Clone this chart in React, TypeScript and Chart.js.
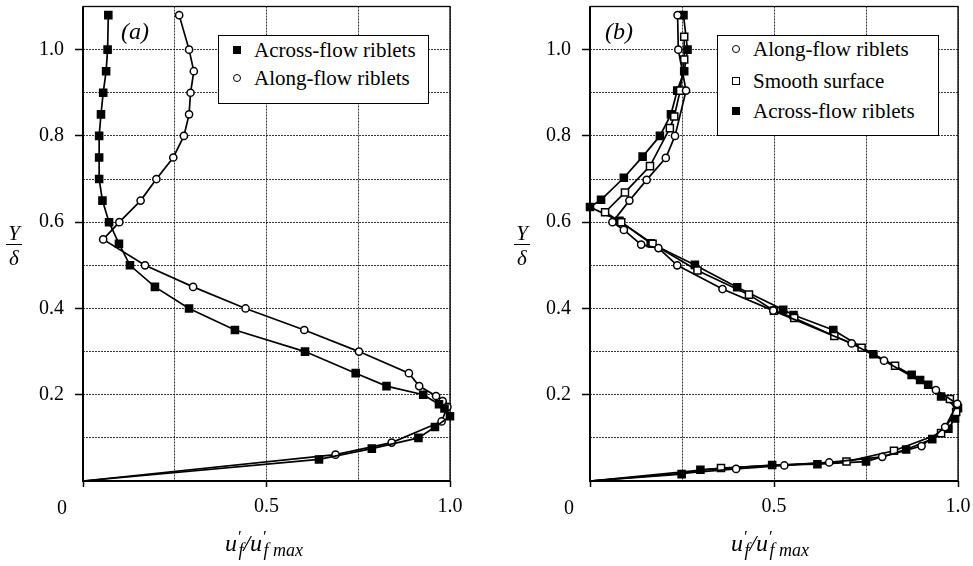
import React, { useEffect, useRef } from "react";
import { Chart, registerables } from "chart.js";
Chart.register(...registerables);

const FONT = "'Liberation Serif', 'Times New Roman', serif";

// ---------- Panel (a) ----------
const acrossA_x = [0.069, 0.067, 0.063, 0.055, 0.049, 0.044, 0.044, 0.044, 0.053, 0.071, 0.098, 0.128, 0.196, 0.289, 0.414, 0.605, 0.743, 0.827, 0.927, 0.97, 0.985, 1.0, 0.959, 0.914, 0.787, 0.643, 0];
const acrossA_y = [1.08, 1.0, 0.95, 0.9, 0.85, 0.8, 0.75, 0.7, 0.65, 0.6, 0.55, 0.5, 0.45, 0.4, 0.35, 0.3, 0.25, 0.22, 0.2, 0.178, 0.168, 0.15, 0.125, 0.1, 0.075, 0.05, 0];
const alongA_x = [0.262, 0.289, 0.302, 0.293, 0.289, 0.275, 0.246, 0.2, 0.157, 0.099, 0.055, 0.169, 0.3, 0.443, 0.603, 0.752, 0.888, 0.916, 0.962, 0.98, 0.993, 0.977, 0.841, 0.688, 0];
const alongA_y = [1.08, 1.0, 0.95, 0.9, 0.85, 0.8, 0.75, 0.7, 0.65, 0.6, 0.56, 0.5, 0.45, 0.4, 0.35, 0.3, 0.25, 0.22, 0.197, 0.185, 0.172, 0.138, 0.089, 0.061, 0];

// ---------- Panel (b) ----------
const alongB_x = [0.238, 0.24, 0.261, 0.231, 0.206, 0.154, 0.107, 0.061, 0.092, 0.139, 0.186, 0.237, 0.36, 0.498, 0.711, 0.799, 0.94, 0.998, 0.965, 0.901, 0.794, 0.65, 0.528, 0.397, 0];
const alongB_y = [1.08, 1.0, 0.905, 0.8, 0.749, 0.698, 0.65, 0.6, 0.582, 0.548, 0.54, 0.5, 0.445, 0.395, 0.319, 0.279, 0.211, 0.179, 0.125, 0.081, 0.056, 0.043, 0.036, 0.028, 0];
const smoothB_x = [0.256, 0.256, 0.245, 0.229, 0.217, 0.163, 0.095, 0.041, 0.085, 0.17, 0.292, 0.432, 0.5, 0.555, 0.664, 0.738, 0.829, 0.978, 0.995, 0.954, 0.826, 0.697, 0.356, 0];
const smoothB_y = [1.03, 0.977, 0.905, 0.845, 0.818, 0.73, 0.669, 0.623, 0.6, 0.55, 0.488, 0.432, 0.395, 0.378, 0.336, 0.309, 0.267, 0.19, 0.16, 0.111, 0.07, 0.045, 0.03, 0];
const acrossB_x = [0.254, 0.265, 0.256, 0.237, 0.22, 0.19, 0.143, 0.092, 0.03, 0.0, 0.08, 0.165, 0.285, 0.4, 0.525, 0.553, 0.661, 0.77, 0.874, 0.897, 0.919, 0.954, 1.0, 0.992, 0.974, 0.93, 0.859, 0.75, 0.618, 0.495, 0.3, 0.249, 0];
const acrossB_y = [1.08, 1.0, 0.95, 0.905, 0.85, 0.8, 0.752, 0.703, 0.652, 0.635, 0.603, 0.551, 0.501, 0.449, 0.397, 0.385, 0.35, 0.294, 0.246, 0.234, 0.223, 0.196, 0.169, 0.145, 0.121, 0.097, 0.073, 0.045, 0.039, 0.037, 0.026, 0.016, 0];

// tick labels
const xTickLabels: Record<string, string> = { "0.5": "0.5", "1": "1.0" };
const yTickLabels: Record<string, string> = { "2": "0.2", "4": "0.4", "6": "0.6", "8": "0.8", "10": "1.0" };

const pts = (xs: number[], ys: number[]) => xs.map((x, i) => ({ x, y: ys[i] }));

const GRID = "rgba(0,0,0,0.78)";

function ds(label: string, data: { x: number; y: number }[], style: string, filled: boolean, radius: number) {
  return {
    label,
    data,
    showLine: true,
    borderColor: "#000",
    borderWidth: 1.7,
    tension: 0,
    fill: false,
    clip: false,
    pointStyle: style,
    pointRadius: (c: any) => (c.raw && c.raw.x === 0 && c.raw.y === 0 ? 0 : radius),
    pointHoverRadius: radius,
    pointBackgroundColor: filled ? "#000" : "#fff",
    pointBorderColor: "#000",
    pointBorderWidth: 1.5,
  };
}

const framePlugin = {
  id: "frame",
  beforeDatasetsDraw(chart: any) {
    const { ctx, chartArea: a } = chart;
    ctx.save();
    ctx.setLineDash([]);
    ctx.strokeStyle = "#000";
    ctx.lineWidth = 1.3;
    ctx.strokeRect(a.left, a.top, a.right - a.left, a.bottom - a.top);
    ctx.lineWidth = 2;
    ctx.beginPath();
    ctx.moveTo(a.left, a.top);
    ctx.lineTo(a.left, a.bottom);
    ctx.lineTo(a.right, a.bottom);
    ctx.stroke();
    ctx.restore();
  },
};

function makeOptions(yAxisWidth: number, padRight: number) {
  return {
    responsive: false,
    animation: false as const,
    events: [] as any[],
    layout: { padding: { top: 6, right: padRight, left: 0, bottom: 0 } },
    plugins: { legend: { display: false }, tooltip: { enabled: false } },
    scales: {
      x: {
        type: "linear" as const,
        min: 0,
        max: 1,
        ticks: {
          stepSize: 0.25,
          autoSkip: false,
          maxRotation: 0,
          padding: 8,
          color: "#000",
          font: { family: FONT, size: 20 },
          callback: (v: any) => xTickLabels[String(v)] ?? "",
        },
        grid: {
          color: GRID,
          lineWidth: 1,
          tickLength: 6,
          tickWidth: 1.5,
          tickBorderDash: [],
          tickColor: (c: any) => (c.tick && [0, 0.5, 1].some((t) => Math.abs(c.tick.value - t) < 1e-6) ? "#000" : "rgba(0,0,0,0)"),
        },
        border: { display: false, dash: [2, 1] },
        afterFit: (s: any) => {
          s.height = 85;
          s.paddingLeft = 0;
          s.paddingRight = 0;
        },
      },
      y: {
        type: "linear" as const,
        min: 0,
        max: 1.1,
        ticks: {
          stepSize: 0.1,
          autoSkip: false,
          padding: 11,
          color: "#000",
          font: { family: FONT, size: 20 },
          callback: (v: any) => yTickLabels[String(Math.round(v * 10))] ?? "",
        },
        grid: {
          color: GRID,
          lineWidth: 1,
          tickLength: 8,
          tickWidth: 1.5,
          tickBorderDash: [],
          tickColor: (c: any) => (c.tick && yTickLabels[String(Math.round(c.tick.value * 10))] ? "#000" : "rgba(0,0,0,0)"),
        },
        border: { display: false, dash: [2, 1] },
        afterFit: (s: any) => {
          s.width = yAxisWidth;
          s.paddingTop = 0;
          s.paddingBottom = 0;
        },
      },
    },
  };
}

function Panel({ datasets, yAxisWidth, padRight, width }: any) {
  const ref = useRef<HTMLCanvasElement>(null);
  useEffect(() => {
    if (!ref.current) return;
    const chart = new Chart(ref.current, {
      type: "scatter",
      data: { datasets },
      options: makeOptions(yAxisWidth, padRight) as any,
      plugins: [framePlugin],
    });
    return () => chart.destroy();
  }, []);
  return <canvas ref={ref} width={width} height={566} style={{ display: "block", width, height: 566 }} />;
}

const italic = (size: number) => ({ fontFamily: FONT, fontStyle: "italic", fontSize: size, color: "#000" });

function XTitle({ cx }: { cx: number }) {
  const supS: any = { fontSize: "0.7em", position: "relative", top: "-0.55em", lineHeight: 0 };
  const subS: any = { fontSize: "0.75em", position: "relative", top: "0.3em", lineHeight: 0, marginLeft: "-0.12em" };
  return (
    <div style={{ position: "absolute", left: cx - 100, width: 200, top: 530, textAlign: "center", lineHeight: "26px", whiteSpace: "nowrap", ...italic(24) } as any}>
      u<span style={supS}>′</span><span style={subS}>f</span>/u<span style={supS}>′</span><span style={subS}>f max</span>
    </div>
  );
}

function YTitle({ left }: { left: number }) {
  return (
    <div style={{ position: "absolute", left, top: 223, width: 16, textAlign: "center", lineHeight: "20px", ...italic(21) } as any}>
      <div style={{ borderBottom: "1.5px solid #000", paddingBottom: 1 }}>Y</div>
      <div style={{ paddingTop: 3 }}>δ</div>
    </div>
  );
}

function Marker({ kind }: { kind: string }) {
  const base: any = { display: "inline-block", boxSizing: "border-box", width: 8, height: 8 };
  if (kind === "filledSquare") return <span style={{ ...base, background: "#000" }} />;
  if (kind === "openSquare") return <span style={{ ...base, border: "1.6px solid #000", background: "#fff" }} />;
  return <span style={{ ...base, border: "1.6px solid #000", borderRadius: "50%", background: "#fff" }} />;
}

function Legend({ left, top, width, height, items, rowTops }: any) {
  return (
    <div style={{ position: "absolute", left, top, width, height, boxSizing: "border-box", border: "1.5px solid #000", background: "#fff" }}>
      {items.map((it: any, i: number) => (
        <div key={i} style={{ position: "absolute", left: 14, top: rowTops[i] - 12, height: 24, display: "flex", alignItems: "center", whiteSpace: "nowrap", fontFamily: FONT, fontSize: 21, color: "#000" }}>
          <span style={{ width: 21, display: "inline-flex", alignItems: "center" }}>
            <Marker kind={it.kind} />
          </span>
          <span>{it.label}</span>
        </div>
      ))}
    </div>
  );
}

export default function App() {
  const dsA = [
    ds("Across-flow riblets", pts(acrossA_x, acrossA_y), "rect", true, 5),
    ds("Along-flow riblets", pts(alongA_x, alongA_y), "circle", false, 3.6),
  ];
  const dsB = [
    ds("Along-flow riblets", pts(alongB_x, alongB_y), "circle", false, 3.6),
    ds("Smooth surface", pts(smoothB_x, smoothB_y), "rect", false, 5),
    ds("Across-flow riblets", pts(acrossB_x, acrossB_y), "rect", true, 5),
  ];
  return (
    <div style={{ position: "fixed", left: 0, top: 0, width: 973, height: 566, background: "#fff", overflow: "hidden" }}>
      <div style={{ position: "absolute", left: 0, top: 0 }}>
        <Panel datasets={dsA} yAxisWidth={83} padRight={36} width={486} />
      </div>
      <div style={{ position: "absolute", left: 487, top: 0 }}>
        <Panel datasets={dsB} yAxisWidth={103} padRight={15} width={486} />
      </div>

      {/* origin labels */}
      <div style={{ position: "absolute", left: 57, top: 496, fontFamily: FONT, fontSize: 20 }}>0</div>
      <div style={{ position: "absolute", left: 564, top: 496, fontFamily: FONT, fontSize: 20 }}>0</div>

      {/* panel labels */}
      <div style={{ position: "absolute", left: 121, top: 17, lineHeight: "28px", ...italic(24) } as any}>(a)</div>
      <div style={{ position: "absolute", left: 605, top: 17, lineHeight: "28px", ...italic(24) } as any}>(b)</div>

      <Legend
        left={218}
        top={35}
        width={211}
        height={69}
        rowTops={[14, 42]}
        items={[
          { kind: "filledSquare", label: "Across-flow riblets" },
          { kind: "openCircle", label: "Along-flow riblets" },
        ]}
      />
      <Legend
        left={717}
        top={35}
        width={222}
        height={101}
        rowTops={[13, 45, 75]}
        items={[
          { kind: "openCircle", label: "Along-flow riblets" },
          { kind: "openSquare", label: "Smooth surface" },
          { kind: "filledSquare", label: "Across-flow riblets" },
        ]}
      />

      <YTitle left={6} />
      <YTitle left={514} />
      <XTitle cx={264} />
      <XTitle cx={770} />
    </div>
  );
}
